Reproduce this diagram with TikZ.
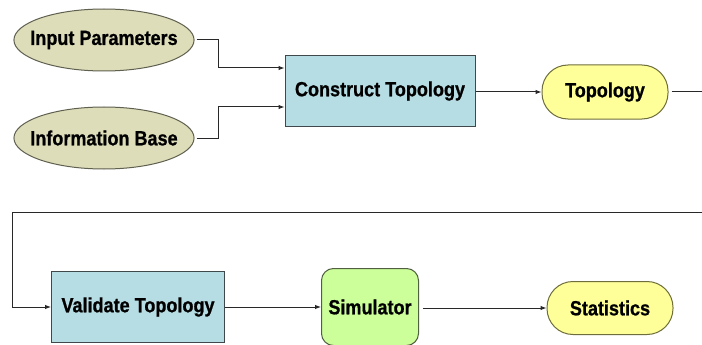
\documentclass[tikz,border=0pt]{standalone}
\usepackage{fontspec}
\setmainfont{Liberation Sans}[FakeStretch=0.88]
\usetikzlibrary{arrows.meta,shapes.geometric}
\definecolor{ovalfill}{RGB}{221,221,186}
\definecolor{ovaldraw}{RGB}{96,96,80}
\definecolor{procfill}{RGB}{183,221,228}
\definecolor{procdraw}{RGB}{64,72,76}
\definecolor{datafill}{RGB}{255,255,153}
\definecolor{datadraw}{RGB}{110,110,60}
\definecolor{simfill}{RGB}{204,255,153}
\definecolor{simdraw}{RGB}{80,96,64}
\definecolor{wire}{RGB}{40,40,40}
\tikzset{
  label font/.style={font=\fontsize{20.5}{22}\selectfont\addfontfeatures{FakeBold=0.8}\bfseries},
  inputoval/.style={ellipse, draw=ovaldraw, fill=ovalfill, line width=1pt,
    inner xsep=-10pt, inner ysep=0pt, minimum height=62pt, label font},
  procbox/.style={rectangle, draw=procdraw, fill=procfill, line width=1pt,
    inner sep=0pt, label font},
  databox/.style={rectangle, rounded corners=26pt, draw=datadraw, fill=datafill,
    line width=1pt, minimum width=126pt, minimum height=54pt, inner sep=0pt, label font},
  simbox/.style={rectangle, rounded corners=12pt, draw=simdraw, fill=simfill,
    line width=1pt, minimum width=97pt, minimum height=77pt, inner sep=0pt, label font},
  wireline/.style={draw=wire, line width=1pt},
  arr/.style={wireline, -{Latex[length=6pt,width=4.5pt]}},
}
\begin{document}
\begin{tikzpicture}[x=1pt,y=-1pt]
  \useasboundingbox[fill=white] (0,0) rectangle (702,345);

  % inputs
  \node[inputoval] (ip) at (104,40) {Input Parameters};
  \node[inputoval] (ib) at (104,138) {Information Base};

  % first row
  \node[procbox, minimum width=190pt, minimum height=71pt] (ct) at (380,91) {Construct Topology};
  \node[databox] (top) at (605,92) {Topology};

  % second row
  \node[procbox, minimum width=173pt, minimum height=71pt] (vt) at (138,307) {Validate Topology};
  \node[simbox] (sim) at (370,307) {Simulator};
  \node[databox, minimum height=53pt] (st) at (610,308) {Statistics};

  % junction points of the input lines
  \coordinate (j1) at (218,68);
  \coordinate (j2) at (218,107);
  \draw[arr, shorten <=2pt] (ip.east) -| (j1) -- (j1 -| ct.west);
  \draw[arr, shorten <=2pt] (ib.east) -| (j2) -- (j2 -| ct.west);

  \draw[arr] (ct.east |- top.west) -- (top.west);

  % loop back to the second row
  \coordinate (e1) at (702,92);
  \draw[wireline, shorten <=3pt] (top.east) -- (e1);
  \coordinate (e2) at (702,212);
  \coordinate (c2) at (12,212);
  \draw[arr] (e2) -- (c2) |- (vt.west);

  \draw[arr] (vt.east) -- (sim.west);
  \draw[arr, shorten <=4pt] (sim.east |- st.west) -- (st.west);
\end{tikzpicture}
\end{document}
